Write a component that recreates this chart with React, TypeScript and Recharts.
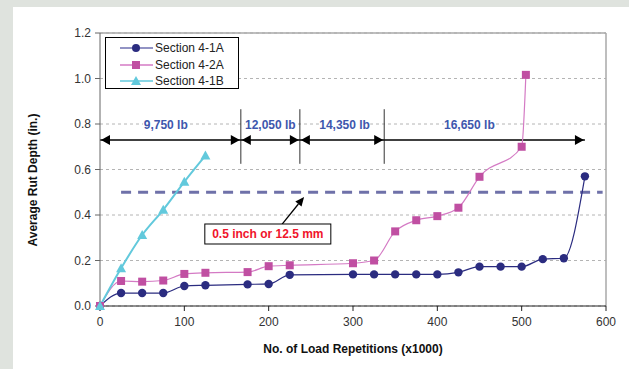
import React from 'react';
import {
  LineChart,
  Line,
  XAxis,
  YAxis,
  CartesianGrid,
  ReferenceLine,
  ReferenceDot,
} from 'recharts';

// load repetitions (x1000) and average rut depth (in.)
const SEC_1A_X = [0, 25, 50, 75, 100, 125, 175, 200, 225, 300, 325, 350, 375, 400, 425, 450, 475, 500, 525, 550, 575];
const SEC_1A_Y = [0, 0.057, 0.057, 0.057, 0.088, 0.091, 0.095, 0.097, 0.137, 0.139, 0.139, 0.139, 0.139, 0.139, 0.148, 0.173, 0.173, 0.173, 0.206, 0.21, 0.57];

const SEC_2A_X = [0, 25, 50, 75, 100, 125, 175, 200, 225, 300, 325, 350, 375, 400, 425, 450, 500, 505];
const SEC_2A_Y = [0, 0.11, 0.107, 0.112, 0.141, 0.146, 0.149, 0.175, 0.179, 0.188, 0.2, 0.328, 0.377, 0.395, 0.432, 0.568, 0.7, 1.016];

const SEC_1B_X = [0, 25, 50, 75, 100, 125];
const SEC_1B_Y = [0, 0.166, 0.312, 0.423, 0.546, 0.661];

const X_TICKS = [0, 100, 200, 300, 400, 500, 600];
const Y_TICKS = [0, 0.2, 0.4, 0.6, 0.8, 1.0, 1.2];

// axle load ranges along the top arrow
const LOAD_BREAKS = [0, 167, 237, 337, 575];
const LOAD_LABELS = ['9,750 lb', '12,050 lb', '14,350 lb', '16,650 lb'];
const LOAD_LABEL_X = [78, 202, 290, 438];

const FONT = 'Arial, "Liberation Sans", sans-serif';
const NAVY = '#2b2c80';
const MAGENTA = '#c04fa2';
const MAGENTA_LINE = '#d47ac4';
const CYAN = '#62c9dc';

const zip = (xs: number[], ys: number[]) => xs.map((x, i) => ({ x, y: ys[i] }));
const sec1A = zip(SEC_1A_X, SEC_1A_Y);
const sec2A = zip(SEC_2A_X, SEC_2A_Y);
const sec1B = zip(SEC_1B_X, SEC_1B_Y);

const circleDot = (p: any) => <circle key={p.index} cx={p.cx} cy={p.cy} r={4.2} fill={NAVY} />;
const squareDot = (p: any) => (
  <rect key={p.index} x={p.cx - 4} y={p.cy - 4} width={8} height={8} fill={MAGENTA} />
);
const triDot = (p: any) => (
  <polygon
    key={p.index}
    points={`${p.cx},${p.cy - 5} ${p.cx - 5},${p.cy + 4} ${p.cx + 5},${p.cy + 4}`}
    fill={CYAN}
  />
);

const head = (x: number, y: number, dir: number) => (
  <polygon points={`${x},${y} ${x - dir * 9},${y - 5} ${x - dir * 9},${y + 5}`} fill="#000" />
);

const arrowShape = (both: boolean) => (p: any) => (
  <g>
    <line x1={p.x1} y1={p.y1} x2={p.x2} y2={p.y2} stroke="#000" strokeWidth={1.5} />
    {both && head(p.x1 + 1, p.y1, -1)}
    {head(p.x2 - 1, p.y2, 1)}
  </g>
);

const pointerShape = (p: any) => {
  const ang = Math.atan2(p.y2 - p.y1, p.x2 - p.x1);
  const L = 9;
  const W = 4;
  const bx = p.x2 - L * Math.cos(ang);
  const by = p.y2 - L * Math.sin(ang);
  const nx = -Math.sin(ang) * W;
  const ny = Math.cos(ang) * W;
  return (
    <g>
      <line x1={p.x1} y1={p.y1} x2={bx} y2={by} stroke="#000" strokeWidth={1.3} />
      <polygon points={`${p.x2},${p.y2} ${bx + nx},${by + ny} ${bx - nx},${by - ny}`} fill="#000" />
    </g>
  );
};

const loadLabel = (text: string) => (p: any) => {
  const w = text.length * 5.7;
  return (
    <g>
      <rect x={p.cx - w / 2} y={p.cy - 3} width={w} height={6} fill="#fff" />
      <text
        x={p.cx}
        y={p.cy + 4.5}
        textAnchor="middle"
        fontFamily={FONT}
        fontSize={12}
        fontWeight="bold"
        fill="#3e57ad"
      >
        {text}
      </text>
    </g>
  );
};

const noteBox = (p: any) => (
  <g>
    <rect x={p.cx - 63} y={p.cy - 10} width={126} height={20} fill="#fff" stroke="#000" strokeWidth={1} />
    <text
      x={p.cx}
      y={p.cy + 4.5}
      textAnchor="middle"
      fontFamily={FONT}
      fontSize={12}
      fontWeight="bold"
      fill="#f0142c"
    >
      0.5 inch or 12.5 mm
    </text>
  </g>
);

const legendItems = [
  { name: 'Section 4-1A', color: NAVY, line: '#6e6fb0', mark: 'circle' },
  { name: 'Section 4-2A', color: MAGENTA, line: MAGENTA_LINE, mark: 'square' },
  { name: 'Section 4-1B', color: CYAN, line: CYAN, mark: 'tri' },
];

export default function App() {
  return (
    <div
      style={{
        position: 'fixed',
        left: 0,
        top: 0,
        width: 629,
        height: 369,
        background: '#dfe3de',
        fontFamily: FONT,
      }}
    >
      <div style={{ position: 'absolute', left: 13, top: 7, width: 616, height: 362, background: '#fff' }}>
        <LineChart width={616} height={362} margin={{ top: 26, right: 23, left: 0, bottom: 33 }}>
          <CartesianGrid horizontal vertical={false} stroke="#b4b4b4" strokeDasharray="3 3" />
          <XAxis
            type="number"
            dataKey="x"
            domain={[0, 600]}
            ticks={X_TICKS}
            height={30}
            tickSize={5}
            tickMargin={6}
            stroke="#222"
            tick={{ fill: '#333', fontSize: 12, fontFamily: FONT }}
            allowDuplicatedCategory={false}
          />
          <YAxis
            type="number"
            domain={[0, 1.2]}
            ticks={Y_TICKS}
            width={87}
            tickSize={5}
            tickMargin={4}
            stroke="#666"
            tickFormatter={(v: number) => v.toFixed(1)}
            tick={{ fill: '#333', fontSize: 12, fontFamily: FONT }}
          />
          <ReferenceLine y={1.2} stroke="#a9a9a9" strokeWidth={1.5} />
          <ReferenceLine x={600} stroke="#a9a9a9" strokeWidth={1.5} />
          <ReferenceLine
            segment={[{ x: 25, y: 0.5 }, { x: 596, y: 0.5 }]}
            stroke="#6f71a9"
            strokeWidth={3}
            strokeDasharray="10 7"
          />

          {LOAD_LABELS.map((t, i) => (
            <ReferenceDot key={`lbl-${t}`} x={LOAD_LABEL_X[i]} y={0.8} r={1} shape={loadLabel(t)} />
          ))}
          {LOAD_BREAKS.slice(1, -1).map((x) => (
            <ReferenceLine
              key={`div-${x}`}
              segment={[{ x, y: 0.625 }, { x, y: 0.865 }]}
              stroke="#333"
              strokeWidth={1}
            />
          ))}
          {LOAD_LABELS.map((t, i) => (
            <ReferenceLine
              key={`arr-${t}`}
              segment={[{ x: LOAD_BREAKS[i], y: 0.73 }, { x: LOAD_BREAKS[i + 1], y: 0.73 }]}
              shape={arrowShape(i < LOAD_LABELS.length - 1)}
            />
          ))}

          <ReferenceLine segment={[{ x: 216, y: 0.36 }, { x: 242, y: 0.479 }]} shape={pointerShape} />
          <ReferenceDot x={199} y={0.3165} r={1} shape={noteBox} />

          <Line
            data={sec1A}
            dataKey="y"
            type="monotone"
            stroke={NAVY}
            strokeWidth={1.2}
            dot={circleDot}
            activeDot={false}
            isAnimationActive={false}
          />
          <Line
            data={sec2A}
            dataKey="y"
            type="monotone"
            stroke={MAGENTA_LINE}
            strokeWidth={1.2}
            dot={squareDot}
            activeDot={false}
            isAnimationActive={false}
          />
          <Line
            data={sec1B}
            dataKey="y"
            type="monotone"
            stroke={CYAN}
            strokeWidth={2}
            dot={triDot}
            activeDot={false}
            isAnimationActive={false}
          />
        </LineChart>

        <div
          style={{
            position: 'absolute',
            left: 92,
            top: 30,
            width: 132,
            height: 50,
            border: '1px solid #000',
            background: '#fff',
          }}
        >
          {legendItems.map((it, i) => (
            <div
              key={it.name}
              style={{ position: 'absolute', left: 0, top: 2 + i * 16.5, height: 16, display: 'flex', alignItems: 'center' }}
            >
              <svg width={48} height={16}>
                <line x1={14} y1={8} x2={47} y2={8} stroke={it.line} strokeWidth={1.5} />
                {it.mark === 'circle' && <circle cx={30} cy={8} r={4} fill={it.color} />}
                {it.mark === 'square' && <rect x={26} y={4} width={8} height={8} fill={it.color} />}
                {it.mark === 'tri' && <polygon points="30,3 25,12 35,12" fill={it.color} />}
              </svg>
              <span style={{ fontSize: 12, color: '#222', marginLeft: 1 }}>{it.name}</span>
            </div>
          ))}
        </div>

        <div
          style={{
            position: 'absolute',
            left: 20 - 90,
            top: 174 - 8,
            width: 180,
            textAlign: 'center',
            transform: 'rotate(-90deg)',
            fontSize: 12,
            fontWeight: 'bold',
            color: '#111',
          }}
        >
          Average Rut Depth (in.)
        </div>
        <div
          style={{
            position: 'absolute',
            left: 340 - 150,
            top: 335,
            width: 300,
            textAlign: 'center',
            fontSize: 12,
            fontWeight: 'bold',
            color: '#111',
          }}
        >
          No. of Load Repetitions (x1000)
        </div>
      </div>
    </div>
  );
}
